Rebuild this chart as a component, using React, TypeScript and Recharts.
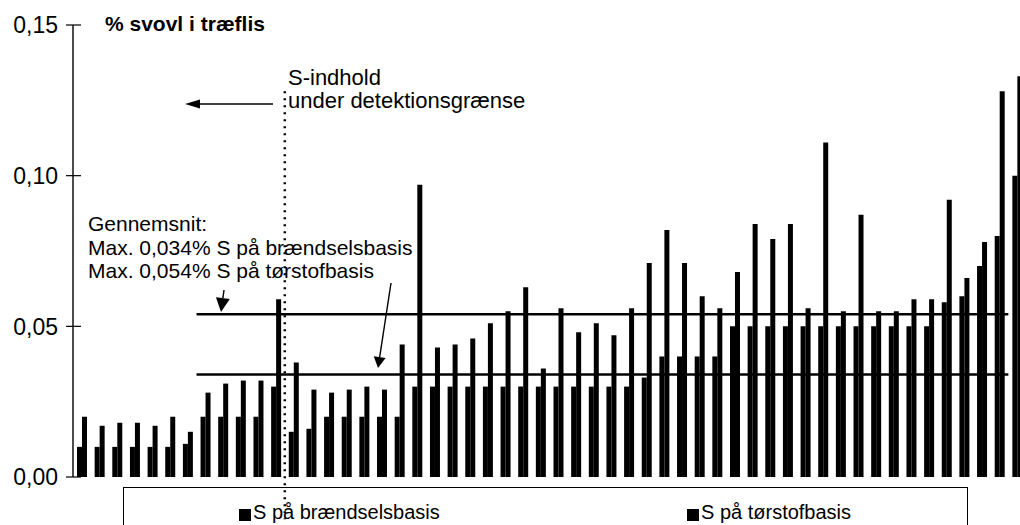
import { BarChart, Bar, XAxis, YAxis, ReferenceLine, Legend } from "recharts";

// prøver sorteret efter svovlindhold
const samples = Array.from({ length: 54 }, (_, i) => `Prøve ${i + 1}`);

// % S på brændselsbasis
const braendsel = [
  0.01, 0.01, 0.01, 0.01, 0.01, 0.01, 0.011, 0.02, 0.02, 0.02,
  0.02, 0.03, 0.015, 0.016, 0.02, 0.02, 0.02, 0.02, 0.02, 0.03,
  0.03, 0.03, 0.03, 0.03, 0.03, 0.03, 0.03, 0.03, 0.03, 0.03,
  0.03, 0.03, 0.033, 0.04, 0.04, 0.04, 0.04, 0.05, 0.05, 0.05,
  0.05, 0.05, 0.05, 0.05, 0.05, 0.05, 0.05, 0.05, 0.05, 0.058,
  0.06, 0.07, 0.08, 0.1,
];

// % S på tørstofbasis
const torstof = [
  0.02, 0.017, 0.018, 0.018, 0.017, 0.02, 0.015, 0.028, 0.031, 0.032,
  0.032, 0.059, 0.038, 0.029, 0.028, 0.029, 0.03, 0.029, 0.044, 0.097,
  0.043, 0.044, 0.046, 0.051, 0.055, 0.063, 0.036, 0.056, 0.048, 0.051,
  0.047, 0.056, 0.071, 0.082, 0.071, 0.06, 0.056, 0.068, 0.084, 0.079,
  0.084, 0.056, 0.111, 0.055, 0.087, 0.055, 0.055, 0.059, 0.059, 0.092,
  0.066, 0.078, 0.128, 0.133,
];

const yTicks = [0, 0.05, 0.1, 0.15];

const avgBraendsel = 0.034;
const avgTorstof = 0.054;

const data = samples.map((name, i) => ({
  name,
  braendsel: braendsel[i],
  torstof: torstof[i],
}));

const FONT = "'Liberation Sans', Arial, sans-serif";
const fmt = (v: number) => v.toFixed(2).replace(".", ",");

const YTick = ({ x, y, payload }: any) => (
  <g>
    <line x1={x - 7} x2={x + 8} y1={y} y2={y} stroke="#000" strokeWidth={1.2} />
    <text
      x={x - 15}
      y={y}
      dy="0.36em"
      textAnchor="end"
      fontSize={23}
      fontFamily={FONT}
      fill="#000"
    >
      {fmt(payload.value)}
    </text>
  </g>
);

const legendLeft = [115, 563];

const renderLegend = (props: any) => (
  <div
    style={{
      position: "relative",
      height: 60,
      border: "1.5px solid #000",
      fontFamily: FONT,
      fontSize: 20,
      color: "#000",
    }}
  >
    {(props.payload || []).map((item: any, i: number) => (
      <div
        key={item.value}
        style={{
          position: "absolute",
          left: legendLeft[i],
          top: 13,
          display: "flex",
          alignItems: "center",
          whiteSpace: "nowrap",
          lineHeight: "23px",
        }}
      >
        <span
          style={{
            display: "inline-block",
            width: 12,
            height: 12,
            background: "#000",
            marginRight: 2,
            marginTop: 4,
          }}
        />
        {item.value}
      </div>
    ))}
  </div>
);

function Arrow({ x1, y1, x2, y2, len = 14, half = 6 }: any) {
  const dx = x2 - x1;
  const dy = y2 - y1;
  const d = Math.hypot(dx, dy);
  const ux = dx / d;
  const uy = dy / d;
  const bx = x2 - ux * len;
  const by = y2 - uy * len;
  return (
    <g>
      <line x1={x1} y1={y1} x2={bx} y2={by} stroke="#000" strokeWidth={1.4} />
      <polygon
        points={`${x2},${y2} ${bx - uy * half},${by + ux * half} ${bx + uy * half},${by - ux * half}`}
        fill="#000"
      />
    </g>
  );
}

export default function App() {
  return (
    <div
      style={{
        position: "fixed",
        left: 0,
        top: 0,
        width: 1020,
        height: 525,
        overflow: "hidden",
        background: "#fff",
      }}
    >
      <div style={{ position: "absolute", left: 8, top: 8 }}>
        <BarChart
          width={1018}
          height={525}
          data={data}
          margin={{ top: 17, right: 0, left: 0, bottom: 56 }}
          barGap={0}
          barSize={5}
        >
          <XAxis
            dataKey="name"
            tick={false}
            tickLine={false}
            height={0}
            axisLine={{ stroke: "#000", strokeWidth: 2 }}
          />
          <YAxis
            domain={[0, 0.15]}
            ticks={yTicks}
            width={65}
            tickLine={false}
            tickSize={0}
            tickMargin={0}
            tick={<YTick />}
            axisLine={{ stroke: "#000", strokeWidth: 1.4 }}
            interval={0}
          />
          <Bar
            dataKey="braendsel"
            name="S på brændselsbasis"
            fill="#000"
            isAnimationActive={false}
          />
          <Bar
            dataKey="torstof"
            name="S på tørstofbasis"
            fill="#000"
            isAnimationActive={false}
          />
          <ReferenceLine
            segment={[
              { x: samples[7], y: avgTorstof },
              { x: samples[53], y: avgTorstof },
            ]}
            position="start"
            stroke="#000"
            strokeWidth={2.5}
            ifOverflow="visible"
          />
          <ReferenceLine
            segment={[
              { x: samples[7], y: avgBraendsel },
              { x: samples[53], y: avgBraendsel },
            ]}
            position="start"
            stroke="#000"
            strokeWidth={2.5}
            ifOverflow="visible"
          />
          <ReferenceLine
            segment={[
              { x: samples[11], y: 0.128 },
              { x: samples[11], y: -0.014 },
            ]}
            position="end"
            stroke="#000"
            strokeWidth={2.5}
            strokeDasharray="2 5"
            ifOverflow="visible"
          />
          <Legend
            content={renderLegend}
            layout="horizontal"
            verticalAlign="middle"
            align="center"
            wrapperStyle={{ left: 115, top: 479, width: 845 }}
          />
        </BarChart>
      </div>

      {/* tekst og pile oven på diagrammet */}
      <svg
        width={1020}
        height={525}
        style={{ position: "absolute", left: 0, top: 0, pointerEvents: "none" }}
        fontFamily={FONT}
      >
        <text x={105} y={31} fontSize={21} fontWeight="bold" fill="#000">
          % svovl i træflis
        </text>
        <text x={288} y={85} fontSize={22} fill="#000">
          S-indhold
        </text>
        <text x={288} y={108} fontSize={22} fill="#000">
          under detektionsgrænse
        </text>
        <Arrow x1={273} y1={104} x2={185} y2={104} len={15} half={4.5} />
        <text fontSize={21} fill="#000">
          <tspan x={88} y={231}>Gennemsnit:</tspan>
          <tspan x={88} y={254.5}>Max. 0,034% S på brændselsbasis</tspan>
          <tspan x={88} y={278}>Max. 0,054% S på tørstofbasis</tspan>
        </text>
        <Arrow x1={224} y1={290} x2={221} y2={312} len={14} half={7} />
        <Arrow x1={391} y1={283} x2={378} y2={368} len={11} half={6} />
      </svg>
    </div>
  );
}
